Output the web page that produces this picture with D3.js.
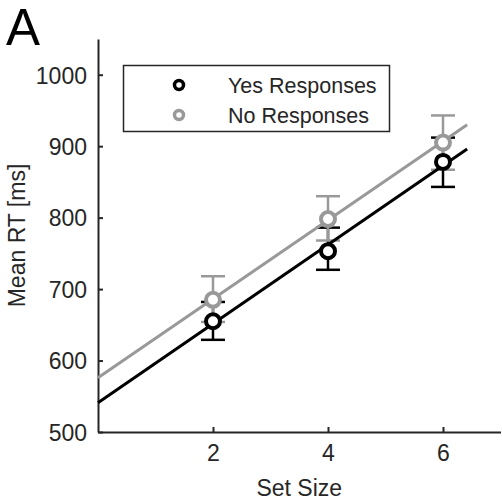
<!DOCTYPE html>
<html>
<head>
<meta charset="utf-8">
<script src="https://cdn.jsdelivr.net/npm/d3@7"></script>
<style>
  html, body { margin: 0; padding: 0; background: #fff; }
  text { font-family: "Liberation Sans", Arial, sans-serif; }
</style>
</head>
<body>
<div id="chart"></div>
<script>
// set sizes and mean RTs
const setSizes = [2, 4, 6];
const yesMeans = [655, 753, 878];
const yesLow = [629, 727, 843];
const yesHigh = [682, 786, 912];
const noMeans = [685, 798, 905];
const noLow = [654, 768, 867];
const noHigh = [718, 830, 943];
// fitted lines, endpoints
const yesFit = [[0, 541], [6.42, 896]];
const noFit = [[0, 576], [6.42, 930]];
const xTicks = [2, 4, 6];
const yTicks = [500, 600, 700, 800, 900, 1000];
const seriesNames = ['Yes Responses', 'No Responses'];

const width = 502;
const height = 501;
const axisColor = '#262626';

const svg = d3.select('#chart').append('svg')
  .attr('width', width)
  .attr('height', height);

const x = d3.scaleLinear().domain([0, 7]).range([98, 500.5]);
const y = d3.scaleLinear().domain([500, 1050]).range([432, 39]);

// axes (ticks pointing inward, like matlab)
const xAxis = d3.axisBottom(x).tickValues(xTicks).tickFormat(d3.format('d'))
  .tickSize(-5).tickPadding(13).tickSizeOuter(0);
const yAxis = d3.axisLeft(y).tickValues(yTicks).tickFormat(d3.format('d'))
  .tickSize(-5).tickPadding(11).tickSizeOuter(0);

const gx = svg.append('g')
  .attr('transform', `translate(0,${y(500)})`)
  .call(xAxis);
const gy = svg.append('g')
  .attr('transform', `translate(${x(0)},0)`)
  .call(yAxis);

[gx, gy].forEach(g => {
  g.select('.domain').attr('stroke', axisColor).attr('stroke-width', 2);
  g.selectAll('.tick line').attr('stroke', axisColor).attr('stroke-width', 2);
  g.selectAll('.tick text')
    .attr('fill', axisColor)
    .style('font-size', '23px')
    .style('font-family', '"Liberation Sans", Arial, sans-serif');
});
gy.selectAll('.tick text').attr('dy', '0.36em');

svg.append('text')
  .attr('x', x(3.5))
  .attr('y', 496)
  .attr('text-anchor', 'middle')
  .attr('fill', axisColor)
  .style('font-size', '23px')
  .text('Set Size');

svg.append('text')
  .attr('transform', `translate(25,${y(775)}) rotate(-90)`)
  .attr('text-anchor', 'middle')
  .attr('fill', axisColor)
  .style('font-size', '23px')
  .text('Mean RT [ms]');

svg.append('text')
  .attr('x', 6)
  .attr('y', 45)
  .attr('fill', '#000')
  .style('font-size', '51px')
  .text('A');

const series = [
  {color: '#000', means: yesMeans, low: yesLow, high: yesHigh, fit: yesFit},
  {color: '#999', means: noMeans, low: noLow, high: noHigh, fit: noFit}
];

// error bars
const capW = 12;
series.forEach(s => {
  const g = svg.append('g').attr('stroke', s.color).attr('stroke-width', 2.5);
  setSizes.forEach((d, i) => {
    g.append('line')
      .attr('x1', x(d)).attr('x2', x(d))
      .attr('y1', y(s.low[i])).attr('y2', y(s.high[i]));
    g.append('line')
      .attr('x1', x(d) - capW).attr('x2', x(d) + capW)
      .attr('y1', y(s.low[i])).attr('y2', y(s.low[i]));
    g.append('line')
      .attr('x1', x(d) - capW).attr('x2', x(d) + capW)
      .attr('y1', y(s.high[i])).attr('y2', y(s.high[i]));
  });
});

// fit lines
const line = d3.line().x(d => x(d[0])).y(d => y(d[1]));
series.forEach(s => {
  svg.append('path')
    .datum(s.fit)
    .attr('d', line)
    .attr('fill', 'none')
    .attr('stroke', s.color)
    .attr('stroke-width', 3);
});

// markers
series.forEach(s => {
  svg.append('g').selectAll('circle')
    .data(setSizes)
    .enter()
    .append('circle')
    .attr('cx', d => x(d))
    .attr('cy', (d, i) => y(s.means[i]))
    .attr('r', 7)
    .attr('fill', '#fff')
    .attr('stroke', s.color)
    .attr('stroke-width', 4);
});

// legend
const legend = svg.append('g');
legend.append('rect')
  .attr('x', 123.5).attr('y', 65.5)
  .attr('width', 266).attr('height', 66)
  .attr('fill', '#fff')
  .attr('stroke', axisColor)
  .attr('stroke-width', 1.5);
seriesNames.forEach((name, i) => {
  const cy = 85 + i * 30;
  legend.append('circle')
    .attr('cx', 179).attr('cy', cy)
    .attr('r', 4.5)
    .attr('fill', '#fff')
    .attr('stroke', series[i].color)
    .attr('stroke-width', 3.5);
  legend.append('text')
    .attr('x', 228).attr('y', cy)
    .attr('dy', '0.36em')
    .attr('fill', axisColor)
    .style('font-size', '21.5px')
    .text(name);
});
</script>
</body>
</html>
